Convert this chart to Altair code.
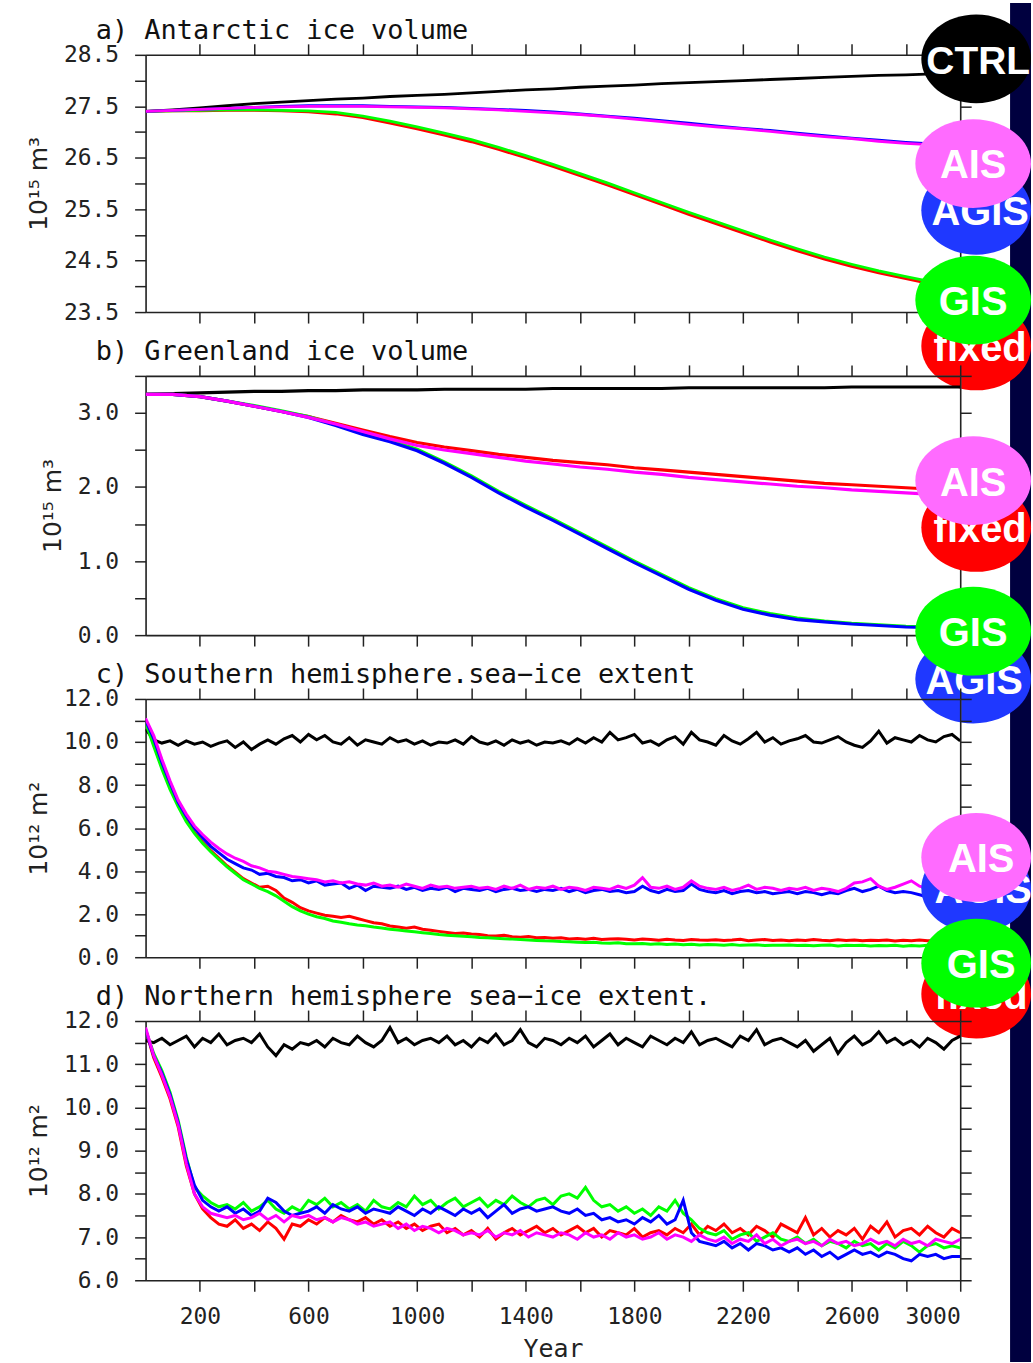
import altair as alt
import pandas as pd

# ------------------------------------------------------------------ data
YEARS_SMOOTH = list(range(0, 3001, 100))
YEARS_NOISY = list(range(0, 3001, 30))

X_TICKS = [200, 400, 600, 800, 1000, 1200, 1400, 1600, 1800, 2000, 2200, 2400, 2600, 2800, 3000]
A_TICKS = [23.5, 24.0, 24.5, 25.0, 25.5, 26.0, 26.5, 27.0, 27.5, 28.0, 28.5]
B_TICKS = [0.0, 0.5, 1.0, 1.5, 2.0, 2.5, 3.0, 3.5]
C_TICKS = [0, 1, 2, 3, 4, 5, 6, 7, 8, 9, 10, 11, 12]
D_TICKS = [6.0, 6.5, 7.0, 7.5, 8.0, 8.5, 9.0, 9.5, 10.0, 10.5, 11.0, 11.5, 12.0]

TITLES = ["a) Antarctic ice volume", "b) Greenland ice volume",
          "c) Southern hemisphere.sea\u2212ice extent", "d) Northern hemisphere sea\u2212ice extent."]
Y_TITLES = ["10\u00b9\u2075 m\u00b3", "10\u00b9\u2075 m\u00b3", "10\u00b9\u00b2 m\u00b2", "10\u00b9\u00b2 m\u00b2"]

RUNS = ["CTRL", "fixed", "GIS", "AGIS", "AIS"]
LINE_COLORS = ["#000000", "#ff0000", "#00ff00", "#0000ff", "#ff00ff"]
LEGEND_COLORS = ["#000000", "#ff0000", "#00ff00", "#1f38ff", "#ff6bff"]

# a) Antarctic ice volume (1e15 m3), every 100 years
A_CTRL = [27.40, 27.43, 27.47, 27.51, 27.55, 27.58, 27.61, 27.64, 27.66, 27.69, 27.71, 27.73, 27.76, 27.79, 27.82, 27.84,
          27.87, 27.89, 27.91, 27.94, 27.96, 27.98, 28.00, 28.02, 28.04, 28.06, 28.08, 28.10, 28.11, 28.13, 28.14]
A_FIXED = [27.40, 27.41, 27.41, 27.42, 27.42, 27.41, 27.39, 27.35, 27.28, 27.17, 27.06, 26.94, 26.81, 26.66, 26.50, 26.33,
           26.15, 25.97, 25.78, 25.59, 25.40, 25.22, 25.04, 24.86, 24.69, 24.53, 24.39, 24.26, 24.15, 24.04, 23.94]
A_GIS = [27.40, 27.41, 27.42, 27.43, 27.43, 27.42, 27.41, 27.38, 27.31, 27.21, 27.10, 26.98, 26.85, 26.70, 26.54, 26.37,
         26.19, 26.01, 25.82, 25.63, 25.44, 25.26, 25.08, 24.90, 24.73, 24.57, 24.43, 24.30, 24.19, 24.08, 23.98]
A_AGIS = [27.40, 27.42, 27.44, 27.46, 27.48, 27.50, 27.51, 27.51, 27.51, 27.50, 27.49, 27.48, 27.46, 27.44, 27.42, 27.39,
          27.35, 27.31, 27.27, 27.22, 27.17, 27.12, 27.07, 27.03, 26.98, 26.93, 26.88, 26.84, 26.80, 26.77, 26.74]
A_AIS = [27.40, 27.42, 27.44, 27.46, 27.48, 27.49, 27.50, 27.50, 27.50, 27.49, 27.48, 27.47, 27.45, 27.43, 27.40, 27.37,
         27.34, 27.30, 27.25, 27.20, 27.15, 27.10, 27.06, 27.01, 26.96, 26.91, 26.87, 26.82, 26.78, 26.75, 26.72]

# b) Greenland ice volume (1e15 m3), every 100 years
B_CTRL = [3.25, 3.26, 3.27, 3.28, 3.29, 3.29, 3.30, 3.30, 3.31, 3.31, 3.31, 3.32, 3.32, 3.32, 3.32, 3.33,
          3.33, 3.33, 3.33, 3.33, 3.34, 3.34, 3.34, 3.34, 3.34, 3.34, 3.35, 3.35, 3.35, 3.35, 3.35]
B_FIXED = [3.25, 3.25, 3.22, 3.16, 3.09, 3.02, 2.95, 2.86, 2.77, 2.68, 2.60, 2.54, 2.49, 2.44, 2.40, 2.36,
           2.33, 2.30, 2.26, 2.23, 2.20, 2.17, 2.14, 2.11, 2.08, 2.05, 2.03, 2.01, 1.99, 1.97, 1.95]
B_GIS = [3.25, 3.25, 3.22, 3.16, 3.10, 3.03, 2.95, 2.84, 2.73, 2.63, 2.51, 2.34, 2.15, 1.94, 1.75, 1.57,
         1.38, 1.19, 1.00, 0.82, 0.64, 0.49, 0.37, 0.29, 0.23, 0.19, 0.16, 0.14, 0.12, 0.11, 0.10]
B_AGIS = [3.25, 3.25, 3.22, 3.16, 3.09, 3.02, 2.94, 2.83, 2.71, 2.61, 2.49, 2.32, 2.13, 1.92, 1.73, 1.55,
          1.36, 1.17, 0.98, 0.80, 0.62, 0.47, 0.35, 0.27, 0.21, 0.18, 0.15, 0.13, 0.11, 0.10, 0.09]
B_AIS = [3.25, 3.25, 3.22, 3.16, 3.09, 3.02, 2.94, 2.85, 2.75, 2.65, 2.56, 2.50, 2.45, 2.40, 2.35, 2.31,
         2.27, 2.24, 2.20, 2.17, 2.13, 2.10, 2.07, 2.04, 2.01, 1.99, 1.96, 1.94, 1.92, 1.90, 1.89]

# c) Southern hemisphere sea-ice extent (1e12 m2), every 30 years
C_CTRL = [10.60, 10.10, 9.95, 10.05, 9.85, 10.05, 9.90, 10.00, 9.80, 9.95,
          10.05, 9.75, 10.00, 9.65, 9.90, 10.10, 9.90, 10.15, 10.30, 10.00,
          10.35, 10.10, 10.30, 10.00, 9.90, 10.20, 9.85, 10.10, 10.00, 9.90,
          10.20, 10.00, 10.10, 9.90, 10.05, 9.85, 10.00, 9.95, 10.10, 9.90,
          10.25, 10.00, 9.90, 10.05, 9.85, 10.10, 9.95, 10.05, 9.85, 10.00,
          9.95, 10.05, 9.90, 10.15, 9.95, 10.20, 10.00, 10.45, 10.10, 10.20,
          10.35, 9.95, 10.05, 9.85, 10.10, 10.25, 9.90, 10.45, 10.10, 10.00,
          9.85, 10.30, 10.05, 9.90, 10.15, 10.45, 10.00, 10.20, 9.90, 10.05,
          10.15, 10.30, 10.00, 9.95, 10.10, 10.25, 10.00, 9.85, 9.75, 10.05,
          10.50, 9.95, 10.20, 10.10, 10.00, 10.30, 10.10, 10.00, 10.25, 10.35,
          10.05]
C_FIXED = [11.00, 9.90, 8.85, 7.90, 7.10, 6.40, 5.80, 5.35, 4.95, 4.60,
           4.25, 3.95, 3.65, 3.45, 3.25, 3.30, 3.10, 2.75, 2.55, 2.30,
           2.15, 2.05, 1.95, 1.90, 1.85, 1.90, 1.80, 1.70, 1.60, 1.55,
           1.45, 1.40, 1.35, 1.40, 1.30, 1.25, 1.20, 1.15, 1.10, 1.12,
           1.08, 1.05, 1.00, 0.98, 1.02, 0.95, 0.93, 0.96, 0.90, 0.92,
           0.88, 0.90, 0.85, 0.87, 0.84, 0.88, 0.82, 0.85, 0.86, 0.83,
           0.80, 0.84, 0.82, 0.79, 0.83, 0.80, 0.78, 0.82, 0.80, 0.79,
           0.81, 0.78, 0.80, 0.83, 0.77, 0.80, 0.82, 0.78, 0.80, 0.76,
           0.80, 0.78, 0.82, 0.79, 0.77, 0.81, 0.78, 0.80, 0.76, 0.79,
           0.78, 0.80, 0.75, 0.79, 0.77, 0.80, 0.76, 0.78, 0.74, 0.77,
           0.75]
C_GIS = [10.90, 9.80, 8.75, 7.80, 7.00, 6.30, 5.75, 5.30, 4.90, 4.55,
         4.20, 3.90, 3.60, 3.40, 3.20, 3.05, 2.85, 2.60, 2.35, 2.15,
         2.00, 1.88, 1.80, 1.68, 1.62, 1.55, 1.50, 1.46, 1.40, 1.36,
         1.30, 1.26, 1.22, 1.18, 1.14, 1.10, 1.05, 1.02, 1.00, 0.97,
         0.95, 0.92, 0.90, 0.88, 0.86, 0.84, 0.82, 0.80, 0.78, 0.76,
         0.75, 0.73, 0.72, 0.70, 0.68, 0.70, 0.66, 0.65, 0.67, 0.63,
         0.62, 0.64, 0.60, 0.62, 0.59, 0.61, 0.58, 0.60, 0.57, 0.59,
         0.58, 0.56, 0.59, 0.55, 0.57, 0.58, 0.54, 0.56, 0.55, 0.57,
         0.54, 0.56, 0.53, 0.55, 0.57, 0.52, 0.55, 0.54, 0.56, 0.52,
         0.54, 0.53, 0.55, 0.51, 0.54, 0.52, 0.55, 0.53, 0.51, 0.54,
         0.52]
C_AGIS = [11.00, 10.15, 9.05, 8.10, 7.20, 6.55, 6.00, 5.55, 5.15, 4.85,
          4.55, 4.35, 4.15, 4.05, 3.85, 3.90, 3.75, 3.70, 3.55, 3.60,
          3.45, 3.55, 3.35, 3.40, 3.45, 3.20, 3.35, 3.10, 3.30, 3.25,
          3.20, 3.30, 3.15, 3.25, 3.10, 3.20, 3.15, 3.25, 3.05, 3.20,
          3.15, 3.10, 3.20, 3.05, 3.15, 3.20, 3.10, 3.15, 3.05, 3.15,
          3.10, 3.20, 3.05, 3.15, 3.00, 3.10, 3.15, 3.05, 3.10, 3.00,
          3.05, 3.30, 3.10, 3.00, 3.15, 3.05, 3.10, 3.40, 3.15, 3.05,
          3.00, 3.10, 2.95, 3.05, 3.10, 3.00, 3.05, 2.95, 3.00, 3.05,
          2.95, 3.05, 3.00, 2.90, 3.00, 2.95, 3.10, 3.20, 3.05, 3.15,
          3.30, 3.10, 3.00, 3.05, 3.00, 2.90, 2.80, 2.85, 2.75, 2.80,
          2.70]
C_AIS = [11.10, 10.30, 9.20, 8.20, 7.30, 6.65, 6.10, 5.70, 5.35, 5.05,
         4.80, 4.60, 4.45, 4.25, 4.15, 4.00, 3.95, 3.85, 3.75, 3.70,
         3.65, 3.60, 3.50, 3.55, 3.45, 3.50, 3.40, 3.35, 3.45, 3.30,
         3.35, 3.25, 3.40, 3.30, 3.20, 3.35, 3.25, 3.30, 3.20, 3.25,
         3.30, 3.20, 3.25, 3.15, 3.30, 3.20, 3.35, 3.15, 3.25, 3.20,
         3.30, 3.15, 3.25, 3.20, 3.10, 3.25, 3.20, 3.15, 3.30, 3.20,
         3.35, 3.70, 3.25, 3.20, 3.30, 3.15, 3.25, 3.55, 3.30, 3.20,
         3.15, 3.25, 3.10, 3.20, 3.35, 3.15, 3.25, 3.20, 3.10, 3.20,
         3.15, 3.25, 3.10, 3.20, 3.15, 3.05, 3.20, 3.45, 3.50, 3.65,
         3.30, 3.15, 3.25, 3.40, 3.55, 3.30, 3.20, 3.10, 3.30, 3.20,
         3.35]

# d) Northern hemisphere sea-ice extent (1e12 m2), every 30 years
D_CTRL = [11.55, 11.50, 11.60, 11.45, 11.55, 11.65, 11.40, 11.60, 11.50, 11.70,
          11.45, 11.55, 11.60, 11.50, 11.70, 11.40, 11.20, 11.45, 11.35, 11.50,
          11.45, 11.55, 11.40, 11.60, 11.50, 11.45, 11.65, 11.50, 11.40, 11.55,
          11.85, 11.50, 11.60, 11.45, 11.55, 11.60, 11.50, 11.65, 11.45, 11.55,
          11.40, 11.60, 11.50, 11.70, 11.45, 11.55, 11.80, 11.50, 11.40, 11.60,
          11.55, 11.45, 11.60, 11.50, 11.65, 11.40, 11.55, 11.70, 11.45, 11.60,
          11.50, 11.40, 11.65, 11.55, 11.45, 11.60, 11.50, 11.75, 11.45, 11.55,
          11.60, 11.50, 11.40, 11.65, 11.55, 11.80, 11.45, 11.55, 11.60, 11.50,
          11.40, 11.55, 11.30, 11.45, 11.60, 11.25, 11.50, 11.65, 11.45, 11.55,
          11.75, 11.50, 11.60, 11.45, 11.55, 11.40, 11.60, 11.50, 11.35, 11.55,
          11.65]
D_FIXED = [11.80, 11.15, 10.70, 10.20, 9.55, 8.65, 8.00, 7.65, 7.45, 7.30,
           7.25, 7.40, 7.20, 7.30, 7.15, 7.35, 7.20, 6.95, 7.30, 7.25,
           7.40, 7.30, 7.45, 7.35, 7.50, 7.40, 7.35, 7.45, 7.30, 7.40,
           7.25, 7.35, 7.20, 7.30, 7.15, 7.25, 7.30, 7.10, 7.20, 7.05,
           7.15, 7.00, 7.20, 6.95, 7.10, 7.20, 7.05, 7.15, 7.25, 7.10,
           7.20, 7.05, 7.15, 7.25, 7.10, 7.20, 7.00, 7.15, 7.10, 7.05,
           7.20, 7.00, 7.10, 7.15, 7.05, 7.20, 7.10, 7.30, 7.05, 7.25,
           7.15, 7.30, 7.10, 7.20, 7.05, 7.25, 7.15, 7.00, 7.30, 7.20,
           7.10, 7.45, 7.05, 7.20, 7.00, 7.15, 7.05, 7.20, 6.95, 7.25,
           7.10, 7.35, 7.00, 7.15, 7.20, 7.05, 7.25, 7.10, 7.00, 7.20,
           7.10]
D_GIS = [11.80, 11.25, 10.85, 10.35, 9.70, 8.85, 8.15, 7.95, 7.80, 7.70,
         7.75, 7.65, 7.80, 7.60, 7.70, 7.85, 7.65, 7.55, 7.70, 7.60,
         7.85, 7.75, 7.90, 7.70, 7.80, 7.65, 7.75, 7.60, 7.85, 7.70,
         7.65, 7.80, 7.70, 7.95, 7.75, 7.85, 7.65, 7.80, 7.90, 7.70,
         7.80, 7.90, 7.70, 7.85, 7.75, 7.95, 7.80, 7.70, 7.85, 7.90,
         7.75, 7.95, 8.00, 7.90, 8.15, 7.85, 7.70, 7.75, 7.60, 7.70,
         7.55, 7.65, 7.50, 7.70, 7.60, 7.85, 7.55, 7.40, 7.20, 7.10,
         7.05, 7.15, 6.95, 7.05, 7.10, 6.90, 7.00, 7.10, 6.95, 6.90,
         7.00, 6.85, 6.95, 6.80, 6.90, 6.85, 6.75, 6.90, 6.80, 6.85,
         6.70, 6.85, 6.75, 6.90, 6.80, 6.65, 6.80, 6.85, 6.75, 6.80,
         6.75]
D_AGIS = [11.80, 11.20, 10.80, 10.30, 9.65, 8.80, 8.20, 7.85, 7.70, 7.60,
          7.70, 7.55, 7.65, 7.50, 7.60, 7.90, 7.80, 7.60, 7.50, 7.55,
          7.60, 7.70, 7.55, 7.75, 7.65, 7.60, 7.70, 7.55, 7.65, 7.60,
          7.55, 7.70, 7.60, 7.50, 7.65, 7.55, 7.70, 7.60, 7.50, 7.65,
          7.55, 7.65, 7.45, 7.60, 7.75, 7.55, 7.65, 7.70, 7.60, 7.65,
          7.70, 7.60, 7.55, 7.65, 7.50, 7.55, 7.40, 7.45, 7.35, 7.40,
          7.30, 7.45, 7.35, 7.50, 7.30, 7.40, 7.85, 7.10, 6.90, 6.85,
          6.80, 6.90, 6.75, 6.85, 6.70, 6.85, 6.80, 6.70, 6.75, 6.65,
          6.75, 6.60, 6.70, 6.55, 6.65, 6.50, 6.60, 6.70, 6.60, 6.65,
          6.55, 6.65, 6.60, 6.50, 6.45, 6.60, 6.55, 6.60, 6.50, 6.55,
          6.55]
D_AIS = [11.85, 11.20, 10.75, 10.25, 9.60, 8.70, 8.00, 7.70, 7.55, 7.50,
         7.45, 7.50, 7.40, 7.45, 7.55, 7.40, 7.50, 7.35, 7.50, 7.45,
         7.50, 7.40, 7.45, 7.35, 7.45, 7.40, 7.30, 7.35, 7.25, 7.30,
         7.35, 7.20, 7.30, 7.15, 7.25, 7.20, 7.10, 7.20, 7.15, 7.05,
         7.10, 7.05, 7.15, 7.00, 7.10, 7.05, 7.15, 7.00, 7.10, 7.05,
         7.00, 7.10, 7.05, 6.95, 7.10, 7.00, 7.05, 6.95, 7.10, 7.00,
         7.05, 6.95, 7.00, 7.10, 6.95, 7.05, 7.00, 6.90, 7.05, 6.95,
         6.90, 7.00, 6.85, 6.95, 6.90, 7.05, 6.85, 6.95, 6.80, 6.90,
         6.95, 6.85, 6.90, 6.80, 6.95, 6.85, 6.90, 6.80, 6.85, 6.95,
         6.85, 6.90, 6.80, 6.95, 6.85, 6.90, 6.80, 6.95, 6.90, 6.85,
         6.95]

# ------------------------------------------------------------------ layout / style
MONO = "DejaVu Sans Mono"
SANS = "DejaVu Sans"
BOLD = "Liberation Sans"
INK = "#222222"
LEFT, TOP = 145, 52
PLOT_W = 817
HEIGHTS = [258, 260, 259, 260]
SPACING = 64
PAGE_W, PAGE_H = 1033, 1363
STRIP_X = 1012
STRIP_COLOR = "#00003f"
LINE_W = [2.8, 3.2, 3.0, 3.0]
ELL_RY = 44.5

# legend bubbles: (label, ellipse centre x, ellipse half-width, text centre x, centre y) in page pixels
LEGENDS = [
    [("CTRL", 978, 55, 980, 56), ("AGIS", 978, 55, 982, 208), ("AIS", 975, 58, 975, 161),
     ("fixed", 978, 55, 982, 344), ("GIS", 975, 58, 975, 298)],
    [("fixed", 978, 55, 982, 526), ("AIS", 975, 58, 975, 479),
     ("AGIS", 975, 58, 976, 678), ("GIS", 975, 58, 975, 630)],
    [("AGIS", 978, 55, 985, 888), ("AIS", 978, 55, 983, 857),
     ("fixed", 978, 55, 983, 994), ("GIS", 978, 55, 983, 963)],
    [],
]


def ellipse_path(ratio):
    k = 0.5523
    r = ratio
    return (f"M 1 0 C 1 {k*r:.4f} {k:.4f} {r:.4f} 0 {r:.4f} "
            f"C {-k:.4f} {r:.4f} -1 {k*r:.4f} -1 0 "
            f"C -1 {-k*r:.4f} {-k:.4f} {-r:.4f} 0 {-r:.4f} "
            f"C {k:.4f} {-r:.4f} 1 {-k*r:.4f} 1 0 Z")


AX = dict(tickSize=11, tickWidth=1.5, tickColor=INK, domainColor=INK, domainWidth=1.6, grid=False,
          labelFont=MONO, labelFontSize=23, labelColor=INK, titleColor=INK,
          titleFontWeight="normal")


def panel(idx, years, series, ydom, yticks, ylabel_test, last):
    h = HEIGHTS[idx]
    top = TOP + sum(HEIGHTS[:idx]) + SPACING * idx
    xscale = alt.Scale(domain=[0, 3000], nice=False, zero=False)
    yscale = alt.Scale(domain=ydom, nice=False, zero=False)

    if last:
        x_bottom = alt.Axis(orient="bottom", values=X_TICKS, format="d", labelPadding=14,
                            labelExpr="datum.value % 400 == 200 ? datum.label : ''",
                            title="Year", titleFont=MONO, titleFontSize=25, titlePadding=8, **AX)
    else:
        x_bottom = alt.Axis(orient="bottom", values=X_TICKS, labels=False, title=None, **AX)
    y_left = alt.Axis(orient="left", values=yticks, labelPadding=16,
                      labelExpr=f"{ylabel_test} ? format(datum.value, '.1f') : ''",
                      title=Y_TITLES[idx], titleFont=SANS, titleFontSize=25, titlePadding=12, **AX)
    x_top = alt.Axis(orient="top", values=X_TICKS, labels=False, title=None, **AX)
    y_right = alt.Axis(orient="right", values=yticks, labels=False, title=None, **AX)

    lines = []
    for run, color, vals in zip(RUNS, LINE_COLORS, series):
        df = pd.DataFrame({"year": years, "value": vals, "run": run})
        lines.append(
            alt.Chart(df).mark_line(color=color, strokeWidth=LINE_W[idx], clip=True).encode(
                x=alt.X("year:Q", scale=xscale, axis=x_bottom),
                y=alt.Y("value:Q", scale=yscale, axis=y_left),
            )
        )
    inner = alt.layer(*lines)

    frame_df = pd.DataFrame({"year": years, "value": series[0]})
    frame = alt.Chart(frame_df).mark_line(opacity=0).encode(
        x=alt.X("year:Q", scale=xscale, axis=x_top),
        y=alt.Y("value:Q", scale=yscale, axis=y_right),
    )

    one = pd.DataFrame({"t": [TITLES[idx]]})
    title = alt.Chart(one).mark_text(font=MONO, fontSize=27, align="left", baseline="alphabetic",
                                     color="#111111").encode(
        text="t:N", x=alt.value(-50), y=alt.value(-16))

    layers = []
    if idx == 0:
        full = pd.DataFrame({"k": [0]})
        edge = alt.Chart(full).mark_rect(color="white").encode(
            x=alt.value(-LEFT), x2=alt.value(-LEFT + 1),
            y=alt.value(-TOP), y2=alt.value(PAGE_H - TOP))
        strip = alt.Chart(full).mark_rect(color=STRIP_COLOR).encode(
            x=alt.value(STRIP_X - LEFT), x2=alt.value(PAGE_W - LEFT),
            y=alt.value(-TOP), y2=alt.value(PAGE_H - TOP))
        layers += [edge, strip]
    layers += [inner, frame, title]

    fill_of = dict(zip(RUNS, LEGEND_COLORS))
    for label, ecx, erx, tcx, cy in LEGENDS[idx]:
        d = pd.DataFrame({"label": [label]})
        layers.append(
            alt.Chart(d).mark_point(shape=ellipse_path(ELL_RY / erx), filled=True, color=fill_of[label],
                                    opacity=1, size=(2 * erx) ** 2, strokeWidth=0).encode(
                x=alt.value(ecx - LEFT), y=alt.value(cy - top)))
        layers.append(
            alt.Chart(d).mark_text(font=BOLD, fontWeight="bold", fontSize=39 if label == "CTRL" else 40,
                                   color="white", align="center", baseline="alphabetic").encode(
                text="label:N", x=alt.value(tcx - LEFT), y=alt.value(cy + 15 - top)))

    return alt.layer(*layers).resolve_axis(x="independent", y="independent").properties(
        width=PLOT_W, height=h)


pa = panel(0, YEARS_SMOOTH, [A_CTRL, A_FIXED, A_GIS, A_AGIS, A_AIS], [23.5, 28.5], A_TICKS,
           "round(datum.value * 2) % 2 == 1", False)
pb = panel(1, YEARS_SMOOTH, [B_CTRL, B_FIXED, B_GIS, B_AGIS, B_AIS], [0.0, 3.5], B_TICKS,
           "round(datum.value * 2) % 2 == 0", False)
pc = panel(2, YEARS_NOISY, [C_CTRL, C_FIXED, C_GIS, C_AGIS, C_AIS], [0.0, 12.0], C_TICKS,
           "round(datum.value) % 2 == 0", False)
pd_ = panel(3, YEARS_NOISY, [D_CTRL, D_FIXED, D_GIS, D_AGIS, D_AIS], [6.0, 12.0], D_TICKS,
            "round(datum.value * 2) % 2 == 0", True)

chart = alt.vconcat(pa, pb, pc, pd_, spacing=SPACING, bounds="flush", padding=0).configure_view(
    stroke=None).configure(background="white")

chart.save("out.html", embed_options={"renderer": "svg", "actions": False})
